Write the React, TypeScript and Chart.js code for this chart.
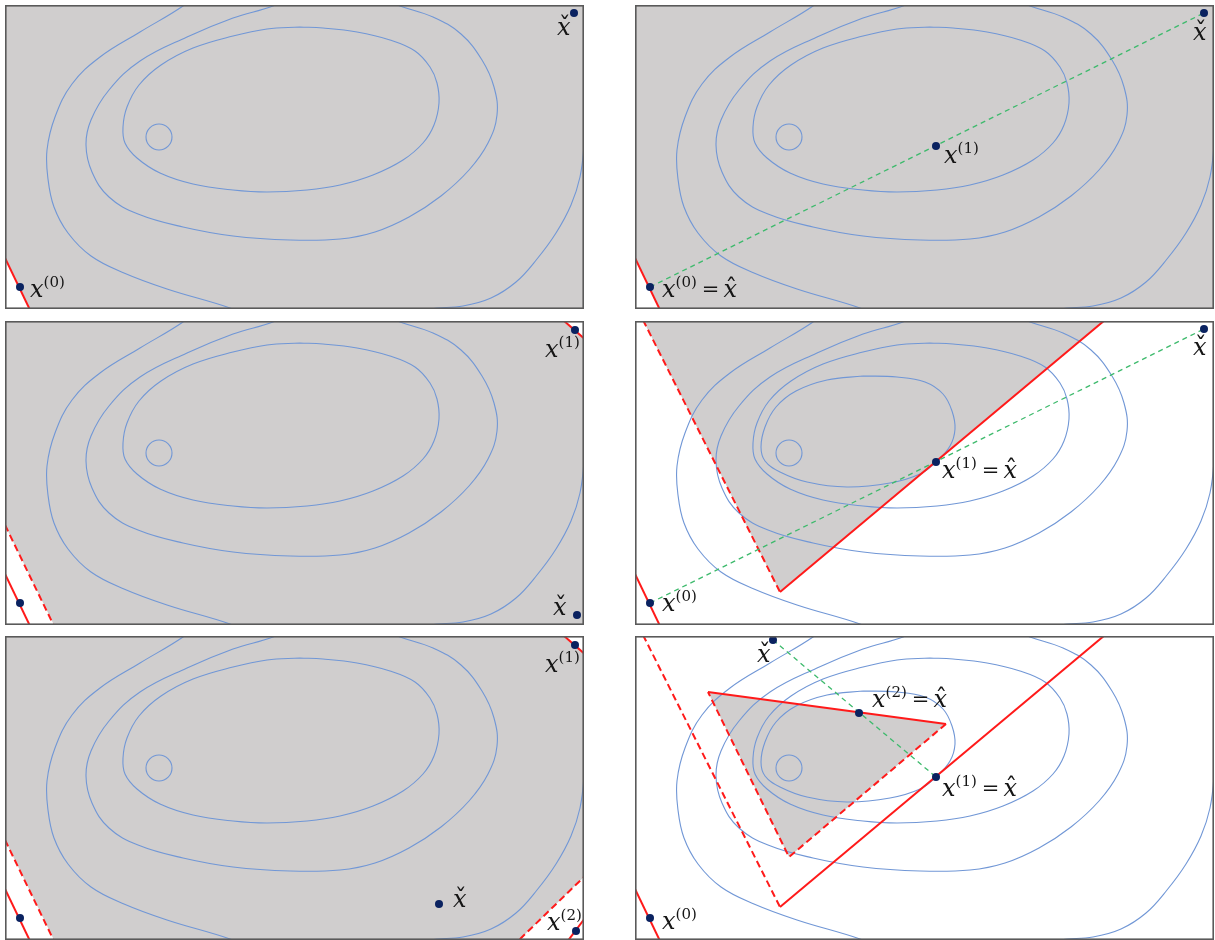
import React, { useEffect, useRef } from 'react';
import { Chart, registerables } from 'chart.js';

Chart.register(...registerables);

// ---------- data (diagram units: x 0..579, y 0..304, y measured downward) ----------
const CONTOUR_OUTER_LEFT: number[][] = [[192, -12], [178, 1], [135, 27], [95, 52], [67, 79], [50, 112], [42, 145], [43, 174], [49, 202], [63, 228], [86, 251], [119, 268], [162, 284], [225, 303], [262, 318]];
const CONTOUR_OUTER_RIGHT: number[][] = [[594, 20], [585, 60], [580, 100], [579, 140], [575, 172], [566, 200], [551, 228], [532, 254], [511, 277], [486, 293], [458, 301], [425, 304], [395, 312]];
const CONTOUR_SECOND: number[][] = [[300, -14], [268, 1], [228, 13], [182, 32], [135, 56], [104, 85], [86, 115], [81, 140], [87, 167], [104, 192], [133, 209], [178, 222], [228, 231], [285, 235], [335, 234], [370, 227], [404, 212], [436, 191], [464, 165], [483, 138], [492, 110], [489, 82], [477, 55], [456, 29], [428, 12], [395, 1], [360, -12]];
const CONTOUR_THIRD: number[][] = [[295, 22], [318, 23], [352, 27], [385, 35], [410, 46], [425, 62], [432, 78], [434, 98], [429, 120], [418, 138], [398, 155], [368, 170], [335, 180], [302, 185], [262, 187], [228, 185], [188, 179], [155, 168], [132, 153], [120, 138], [118, 122], [122, 102], [134, 80], [156, 60], [188, 43], [228, 31], [262, 24], [295, 22]];
const CONTOUR_FOURTH: number[][] = [[228, 55], [262, 56], [290, 61], [308, 73], [317, 90], [320, 108], [315, 125], [301, 141], [285, 153], [255, 162], [212, 166], [172, 161], [145, 151], [130, 140], [126, 126], [130, 106], [141, 86], [161, 70], [192, 59], [228, 55]];
const CONTOUR_CENTER: number[] = [154, 132];

const X0: number[] = [15, 282];
const X1: number[] = [301, 141];
const X1_CORNER: number[] = [570, 9];
const X2: number[] = [224, 77];
const X2_CORNER: number[] = [571, 295];
const XCHECK_TOP: number[] = [569, 8];
const XCHECK_BOTTOM: number[] = [572, 294];
const XCHECK_MID: number[] = [434, 268];
const XCHECK_LAST: number[] = [138, 4];

const CUT_X0: number[][] = [[0, 253], [26, 307]];
const CUT_X0_DEEP: number[][] = [[0, 204], [50, 307]];
const CUT_X1_CORNER: number[][] = [[558, -1], [582, 20]];
const CUT_X2_CORNER: number[][] = [[583, 278], [562, 306]];
const CUT_X2_CORNER_DEEP: number[][] = [[583, 237], [512, 306]];
const CUT_X1_DEEP: number[][] = [[8, -1], [145, 271]];
const CUT_X1: number[][] = [[145, 271], [470, -1]];
const CUT_X2: number[][] = [[73, 56], [311, 88]];
const CUT_X2_DEEP: number[][] = [[311, 88], [154, 221], [73, 56]];

const REGION_A: number[][] = [[0, 0], [579, 0], [579, 304], [25, 304], [0, 253]];
const REGION_B: number[][] = [[0, 0], [559, 0], [579, 17], [579, 304], [49, 304], [0, 204]];
const REGION_C: number[][] = [[0, 0], [559, 0], [579, 17], [579, 241], [514, 304], [49, 304], [0, 204]];
const REGION_D: number[][] = [[8.5, 0], [145, 271], [469, 0]];
const REGION_E: number[][] = [[73, 56], [311, 88], [154, 221]];

// ---------- styles ----------
const GRAY = '#d0cece';
const BLUE = '#7197d6';
const RED = '#ff1a1a';
const GREEN = '#3dba6c';
const NAVY = '#0a2260';
const W = 579;
const H = 304;

const toXY = (arr: number[][]) => arr.map(([x, y]) => ({ x, y }));

const region = (arr: number[][]) => ({
  data: toXY([...arr, arr[0]]),
  showLine: true,
  fill: 'shape',
  backgroundColor: GRAY,
  borderColor: 'rgba(0,0,0,0)',
  borderWidth: 1,
  pointRadius: 0,
  tension: 0,
  order: 20,
});
const contour = (arr: number[][]) => ({
  data: toXY(arr),
  showLine: true,
  fill: false,
  borderColor: BLUE,
  borderWidth: 1.1,
  pointRadius: 0,
  tension: 0.4,
  order: 10,
});
const circle = () => ({
  data: toXY([CONTOUR_CENTER]),
  showLine: false,
  pointRadius: 13,
  pointBackgroundColor: 'rgba(0,0,0,0)',
  pointBorderColor: BLUE,
  pointBorderWidth: 1.1,
  order: 10,
});
const redLine = (arr: number[][], dashed: boolean) => ({
  data: toXY(arr),
  showLine: true,
  fill: false,
  borderColor: RED,
  borderWidth: 2,
  borderDash: dashed ? [7, 4] : [],
  pointRadius: 0,
  tension: 0,
  order: 5,
});
const greenLine = (arr: number[][]) => ({
  data: toXY(arr),
  showLine: true,
  fill: false,
  borderColor: GREEN,
  borderWidth: 1.3,
  borderDash: [5, 4],
  pointRadius: 0,
  tension: 0,
  order: 4,
});
const dots = (arr: number[][]) => ({
  data: toXY(arr),
  showLine: false,
  pointRadius: 4,
  pointBackgroundColor: NAVY,
  pointBorderColor: NAVY,
  pointBorderWidth: 0,
  order: 1,
});

type Label = { at: number[]; dx: number; dy: number; sup?: string; accent?: 'check' | 'hat'; eqHat?: boolean };

const baseContours = () => [contour(CONTOUR_OUTER_LEFT), contour(CONTOUR_OUTER_RIGHT), contour(CONTOUR_SECOND), contour(CONTOUR_THIRD), circle()];

const PANELS: { left: number; top: number; datasets: any[]; labels: Label[] }[] = [
  {
    left: 5, top: 5,
    datasets: [region(REGION_A), ...baseContours(), redLine(CUT_X0, false), dots([X0, XCHECK_TOP])],
    labels: [
      { at: X0, dx: 10, dy: 10, sup: '(0)' },
      { at: XCHECK_TOP, dx: -17, dy: 22, accent: 'check' },
    ],
  },
  {
    left: 635, top: 5,
    datasets: [region(REGION_A), ...baseContours(), redLine(CUT_X0, false), greenLine([X0, XCHECK_TOP]), dots([X0, X1, XCHECK_TOP])],
    labels: [
      { at: X0, dx: 12, dy: 10, sup: '(0)', eqHat: true },
      { at: X1, dx: 8, dy: 17, sup: '(1)' },
      { at: XCHECK_TOP, dx: -11, dy: 27, accent: 'check' },
    ],
  },
  {
    left: 5, top: 321,
    datasets: [region(REGION_B), ...baseContours(), redLine(CUT_X0, false), redLine(CUT_X0_DEEP, true), redLine(CUT_X1_CORNER, false), dots([X0, X1_CORNER, XCHECK_BOTTOM])],
    labels: [
      { at: X1_CORNER, dx: -30, dy: 27, sup: '(1)' },
      { at: XCHECK_BOTTOM, dx: -24, dy: 0, accent: 'check' },
    ],
  },
  {
    left: 635, top: 321,
    datasets: [region(REGION_D), ...baseContours(), contour(CONTOUR_FOURTH), redLine(CUT_X0, false), redLine(CUT_X1_DEEP, true), redLine(CUT_X1, false), greenLine([X0, XCHECK_TOP]), dots([X0, X1, XCHECK_TOP])],
    labels: [
      { at: X0, dx: 12, dy: 8, sup: '(0)' },
      { at: X1, dx: 6, dy: 16, sup: '(1)', eqHat: true },
      { at: XCHECK_TOP, dx: -11, dy: 26, accent: 'check' },
    ],
  },
  {
    left: 5, top: 636,
    datasets: [region(REGION_C), ...baseContours(), redLine(CUT_X0, false), redLine(CUT_X0_DEEP, true), redLine(CUT_X1_CORNER, false), redLine(CUT_X2_CORNER, false), redLine(CUT_X2_CORNER_DEEP, true), dots([X0, X1_CORNER, XCHECK_MID, X2_CORNER])],
    labels: [
      { at: X1_CORNER, dx: -30, dy: 27, sup: '(1)' },
      { at: XCHECK_MID, dx: 14, dy: 3, accent: 'check' },
      { at: X2_CORNER, dx: -29, dy: -1, sup: '(2)' },
    ],
  },
  {
    left: 635, top: 636,
    datasets: [region(REGION_E), ...baseContours(), contour(CONTOUR_FOURTH), redLine(CUT_X0, false), redLine(CUT_X1_DEEP, true), redLine(CUT_X1, false), redLine(CUT_X2, false), redLine(CUT_X2_DEEP, true), greenLine([XCHECK_LAST, X1]), dots([X0, X1, X2, XCHECK_LAST])],
    labels: [
      { at: X0, dx: 12, dy: 11, sup: '(0)' },
      { at: XCHECK_LAST, dx: -16, dy: 22, accent: 'check' },
      { at: X2, dx: 13, dy: -6, sup: '(2)', eqHat: true },
      { at: X1, dx: 6, dy: 19, sup: '(1)', eqHat: true },
    ],
  },
];

const MAIN_FONT = 'italic 24px "DejaVu Serif", "Liberation Serif", serif';
const UP_FONT = '24px "DejaVu Serif", "Liberation Serif", serif';
const EQ_FONT = '21px "DejaVu Serif", "Liberation Serif", serif';
const SUP_FONT = '15px "DejaVu Serif", "Liberation Serif", serif';

function drawX(ctx: CanvasRenderingContext2D, x: number, y: number, accent?: 'check' | 'hat') {
  ctx.font = MAIN_FONT;
  ctx.textAlign = 'left';
  ctx.fillText('x', x, y);
  const w = ctx.measureText('x').width;
  if (accent) {
    ctx.font = UP_FONT;
    ctx.textAlign = 'center';
    ctx.fillText(accent === 'check' ? '\u02C7' : '\u02C6', x + w / 2 + 1, y - 1);
    ctx.textAlign = 'left';
  }
  return w;
}

function drawLabel(ctx: CanvasRenderingContext2D, x: number, y: number, l: Label) {
  ctx.fillStyle = '#151515';
  ctx.textBaseline = 'alphabetic';
  let cx = x;
  cx += drawX(ctx, cx, y, l.accent);
  if (l.sup) {
    ctx.font = SUP_FONT;
    ctx.fillText(l.sup, cx, y - 10);
    cx += ctx.measureText(l.sup).width;
  }
  if (l.eqHat) {
    ctx.font = EQ_FONT;
    cx += 5;
    ctx.fillText('=', cx, y - 1);
    cx += ctx.measureText('=').width + 4;
    drawX(ctx, cx, y, 'hat');
  }
}

function Panel({ cfg }: { cfg: (typeof PANELS)[number] }) {
  const ref = useRef<HTMLCanvasElement | null>(null);
  useEffect(() => {
    if (!ref.current) return;
    const labelPlugin = {
      id: 'mathLabels',
      afterDatasetsDraw(chart: any) {
        const ctx = chart.ctx as CanvasRenderingContext2D;
        const xs = chart.scales.x;
        const ys = chart.scales.y;
        ctx.save();
        for (const l of cfg.labels) {
          const px = xs.getPixelForValue(l.at[0]) + l.dx;
          const py = ys.getPixelForValue(l.at[1]) + l.dy;
          drawLabel(ctx, px, py, l);
        }
        ctx.restore();
      },
      afterDraw(chart: any) {
        const ctx = chart.ctx as CanvasRenderingContext2D;
        ctx.save();
        ctx.strokeStyle = '#5a5a5a';
        ctx.lineWidth = 1.6;
        ctx.strokeRect(0.8, 0.8, chart.width - 1.6, chart.height - 1.6);
        ctx.restore();
      },
    };
    const chart = new Chart(ref.current, {
      type: 'scatter',
      data: { datasets: cfg.datasets as any },
      options: {
        animation: false,
        responsive: false,
        events: [],
        layout: { padding: 0, autoPadding: false },
        plugins: { legend: { display: false }, tooltip: { enabled: false } },
        scales: {
          x: { type: 'linear', min: 0, max: W, display: false },
          y: { type: 'linear', min: 0, max: H, reverse: true, display: false },
        },
      },
      plugins: [labelPlugin],
    } as any);
    return () => chart.destroy();
  }, [cfg]);
  return (
    <canvas
      ref={ref}
      width={W}
      height={H}
      style={{ position: 'absolute', left: cfg.left, top: cfg.top, width: W, height: H }}
    />
  );
}

export default function App() {
  return (
    <div style={{ position: 'absolute', left: 0, top: 0, width: 1215, height: 940, background: '#ffffff' }}>
      {PANELS.map((p, i) => (
        <Panel key={i} cfg={p} />
      ))}
    </div>
  );
}
